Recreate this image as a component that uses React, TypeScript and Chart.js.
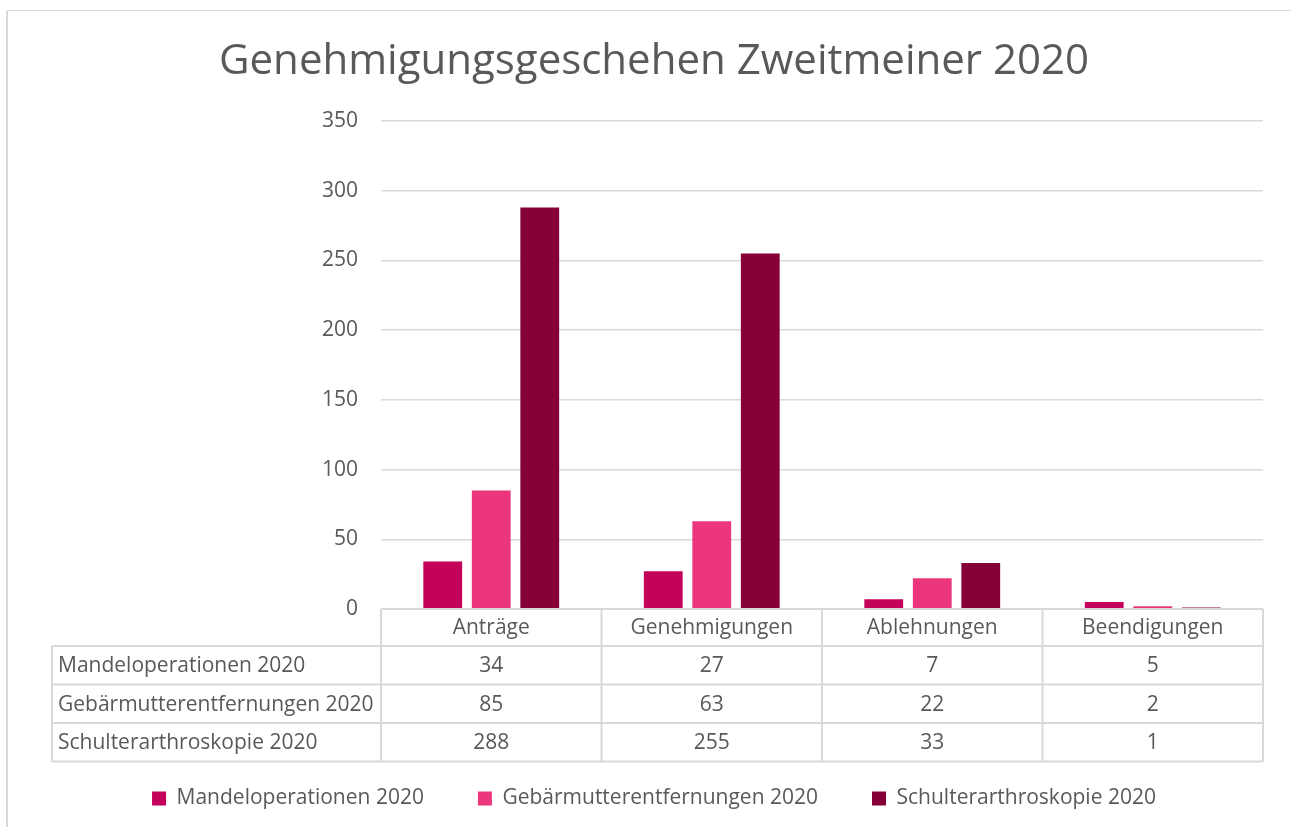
import React, { useEffect, useRef } from "react";
import { Chart, registerables } from "chart.js";

Chart.register(...registerables);

const chartTitle = "Genehmigungsgeschehen Zweitmeiner 2020";
const categories = ["Anträge", "Genehmigungen", "Ablehnungen", "Beendigungen"];
const seriesNames = [
  "Mandeloperationen 2020",
  "Gebärmutterentfernungen 2020",
  "Schulterarthroskopie 2020",
];
const mandeloperationen = [34, 27, 7, 5];
const gebaermutter = [85, 63, 22, 2];
const schulter = [288, 255, 33, 1];
const seriesValues = [mandeloperationen, gebaermutter, schulter];
const seriesColors = ["#C3005A", "#EC367B", "#840037"];
const yMin = 0;
const yMax = 350;
const yStep = 50;

const FONT = "'Open Sans', sans-serif";
const TEXT = "#595959";
const LINE = "#d9d9d9";

const framePlugin = {
  id: "frame",
  beforeDraw(chart: any) {
    const ctx = chart.ctx;
    ctx.save();
    ctx.fillStyle = "#ffffff";
    ctx.fillRect(0, 0, chart.width, chart.height);
    ctx.strokeStyle = LINE;
    ctx.lineWidth = 2;
    ctx.beginPath();
    ctx.moveTo(7, chart.height);
    ctx.lineTo(7, 10.5);
    ctx.stroke();
    ctx.lineWidth = 1;
    ctx.beginPath();
    ctx.moveTo(7, 10.5);
    ctx.lineTo(chart.width, 10.5);
    ctx.stroke();
    ctx.restore();
  },
};

const tablePlugin = {
  id: "dataTable",
  afterDraw(chart: any) {
    const ctx = chart.ctx;
    const xs = chart.scales.x;
    const area = chart.chartArea;
    const n = categories.length;
    const colW = (xs.right - xs.left) / n;
    const headerH = 37;
    const rowH = 38.5;
    const tableLeft = 52;
    const top = area.bottom;
    const rowsTop = top + headerH;
    const bottom = rowsTop + rowH * seriesNames.length;

    ctx.save();
    ctx.strokeStyle = LINE;
    ctx.lineWidth = 2;
    ctx.beginPath();
    ctx.moveTo(area.left, top);
    ctx.lineTo(area.right, top);
    for (let r = 0; r <= seriesNames.length; r++) {
      const y = rowsTop + r * rowH;
      ctx.moveTo(tableLeft, y);
      ctx.lineTo(area.right, y);
    }
    for (let i = 0; i < n; i++) {
      const c = xs.getPixelForValue(i);
      const xl = c - colW / 2;
      ctx.moveTo(xl, top);
      ctx.lineTo(xl, bottom);
    }
    ctx.moveTo(area.right, top);
    ctx.lineTo(area.right, bottom);
    ctx.moveTo(tableLeft, rowsTop);
    ctx.lineTo(tableLeft, bottom);
    ctx.stroke();

    ctx.fillStyle = TEXT;
    ctx.font = `21px ${FONT}`;
    ctx.textBaseline = "middle";
    ctx.textAlign = "center";
    categories.forEach((cat, i) => {
      ctx.fillText(cat, xs.getPixelForValue(i), top + headerH / 2 + 1);
    });
    seriesNames.forEach((name, r) => {
      const y = rowsTop + r * rowH + rowH / 2 + 1;
      ctx.textAlign = "left";
      ctx.fillText(name, tableLeft + 6, y);
      ctx.textAlign = "center";
      seriesValues[r].forEach((v, i) => {
        ctx.fillText(String(v), xs.getPixelForValue(i), y);
      });
    });
    ctx.restore();
  },
};

export default function App() {
  const ref = useRef<HTMLCanvasElement | null>(null);

  useEffect(() => {
    if (!ref.current) return;
    const chart = new Chart(ref.current, {
      type: "bar",
      data: {
        labels: categories,
        datasets: seriesNames.map((name, i) => ({
          label: name,
          data: seriesValues[i],
          backgroundColor: seriesColors[i],
          borderWidth: 0,
          barPercentage: 0.8,
          categoryPercentage: 0.66,
        })),
      },
      options: {
        animation: false,
        responsive: false,
        maintainAspectRatio: false,
        layout: { padding: { left: 45, right: 28, top: 0, bottom: 8 } },
        plugins: {
          title: {
            display: true,
            text: chartTitle,
            color: TEXT,
            font: { family: FONT, size: 42, weight: "normal", lineHeight: 1.2 },
            padding: { top: 37, bottom: 33.6 },
          },
          legend: {
            display: true,
            position: "bottom",
            labels: {
              boxWidth: 14,
              boxHeight: 14,
              padding: 54,
              color: TEXT,
              font: { family: FONT, size: 21 },
            },
          },
          tooltip: { enabled: false },
        },
        scales: {
          x: {
            grid: { display: false },
            border: { display: false },
            ticks: { display: false },
            afterFit(scale: any) {
              scale.height = 125;
            },
          },
          y: {
            min: yMin,
            max: yMax,
            ticks: {
              stepSize: yStep,
              padding: 23,
              color: TEXT,
              font: { family: FONT, size: 21 },
            },
            grid: { color: LINE, lineWidth: 1.5, drawTicks: false },
            border: { display: false },
            afterFit(scale: any) {
              scale.width = 336;
            },
          },
        },
      },
      plugins: [framePlugin, tablePlugin],
    });
    return () => chart.destroy();
  }, []);

  return (
    <div style={{ position: "absolute", left: 0, top: 0, width: 1291, height: 827 }}>
      <canvas ref={ref} width={1291} height={827} style={{ display: "block" }} />
    </div>
  );
}
